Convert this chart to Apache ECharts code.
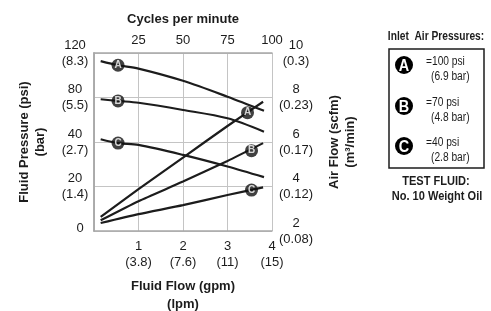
<!DOCTYPE html>
<html><head><meta charset="utf-8">
<script src="https://cdn.jsdelivr.net/npm/echarts@6/dist/echarts.min.js"></script>
<style>html,body{margin:0;padding:0;background:#fff}#c{width:491px;height:311px}</style>
</head><body><div id="c"></div>
<script>
// ---- data ----
const gpmTicks = [1, 2, 3, 4];
const lpmTicks = ['(3.8)', '(7.6)', '(11)', '(15)'];
const cycleTicks = [25, 50, 75, 100];
const psiTicks = [0, 20, 40, 80, 120];
const barTicks = ['', '(1.4)', '(2.7)', '(5.5)', '(8.3)'];
const scfmTicks = [2, 4, 6, 8, 10];
const m3Ticks = ['(0.08)', '(0.12)', '(0.17)', '(0.23)', '(0.3)'];

const pressGpm = [0.15, 0.54, 1, 2, 3, 3.82];
const pressureA = [112.7, 109, 106, 95, 80.7, 68];
const pressureB = [78.4, 76.9, 75.3, 68.8, 61.3, 49.3];
const pressureC = [42.5, 39.5, 38.7, 34.2, 29, 24.2];

const airGpm = [0.15, 1, 2, 3, 3.8];
const airA = [2.63, 3.88, 5.3, 6.72, 7.81];
const airB = [2.48, 3.34, 4.22, 5.15, 5.95];
const airC = [2.36, 2.76, 3.16, 3.62, 3.96];

const letters = ['A', 'B', 'C'];
const pressMarkGpm = [0.54, 0.54, 0.54];
const pressMarkPsi = [109, 76.9, 39.5];
const airMarkGpm = [3.45, 3.54, 3.54];
const airMarkScfm = [7.32, 5.61, 3.84];

const legendPsi = ['=100 psi', '=70 psi', '=40 psi'];
const legendBar = ['(6.9 bar)', '(4.8 bar)', '(2.8 bar)'];

// ---- helpers ----
function psiPos(p) {
  for (let i = 0; i < psiTicks.length - 1; i++) {
    if (p <= psiTicks[i + 1] || i === psiTicks.length - 2) {
      return i + (p - psiTicks[i]) / (psiTicks[i + 1] - psiTicks[i]);
    }
  }
}
const FONT = "'Liberation Sans','Helvetica','Arial',sans-serif";
const INK = '#1c1c1c';
const GRID = '#c4c4c4';
const SX = 0.85; // condensed look for free text

const pressSeries = [pressureA, pressureB, pressureC].map(arr => ({
  type: 'line', xAxisIndex: 0, yAxisIndex: 0, smooth: 0.3, symbol: 'none',
  lineStyle: { color: INK, width: 2.2 },
  data: arr.map((v, i) => [pressGpm[i], psiPos(v)])
}));
const airSeries = [airA, airB, airC].map(arr => ({
  type: 'line', xAxisIndex: 0, yAxisIndex: 1, smooth: 0.2, symbol: 'none',
  lineStyle: { color: INK, width: 2.2 },
  data: arr.map((v, i) => [airGpm[i], v])
}));
const markLabel = {
  show: true, position: 'inside', color: '#fff', fontWeight: 'bold',
  fontSize: 10, fontFamily: FONT,
  formatter: p => p.data[2]
};
const pressMarks = {
  type: 'scatter', xAxisIndex: 0, yAxisIndex: 0, symbol: 'circle', symbolSize: 13,
  itemStyle: { color: '#111' }, z: 5, label: markLabel,
  data: letters.map((l, i) => [pressMarkGpm[i], psiPos(pressMarkPsi[i]), l])
};
const airMarks = {
  type: 'scatter', xAxisIndex: 0, yAxisIndex: 1, symbol: 'circle', symbolSize: 13,
  itemStyle: { color: '#111' }, z: 5, label: markLabel,
  data: letters.map((l, i) => [airMarkGpm[i], airMarkScfm[i], l])
};

// legend graphics
const legendY = [65, 106, 146];
const legendGraphics = [
  { type: 'text', x: 436, y: 37, scaleX: SX, style: { text: 'Inlet  Air Pressures:', font: 'bold 12px ' + FONT, fill: INK, align: 'center', verticalAlign: 'middle' } },
  { type: 'rect', shape: { x: 389, y: 49, width: 95, height: 119 }, style: { fill: 'none', stroke: INK, lineWidth: 1.5 } }
];
letters.forEach((l, i) => {
  const cy = legendY[i];
  legendGraphics.push(
    { type: 'circle', shape: { cx: 404, cy: cy, r: 9 }, style: { fill: '#000' } },
    { type: 'text', x: 404, y: cy + 1, scaleX: SX, style: { text: l, font: 'bold 17px ' + FONT, fill: '#fff', align: 'center', verticalAlign: 'middle' } },
    { type: 'text', x: 426, y: cy - 3, scaleX: SX, style: { text: legendPsi[i], font: '12px ' + FONT, fill: INK, verticalAlign: 'middle' } },
    { type: 'text', x: 431, y: cy + 12, scaleX: SX, style: { text: legendBar[i], font: '12px ' + FONT, fill: INK, verticalAlign: 'middle' } }
  );
});
legendGraphics.push(
  { type: 'text', x: 436, y: 181, scaleX: SX, style: { text: 'TEST FLUID:', font: 'bold 13px ' + FONT, fill: INK, align: 'center', verticalAlign: 'middle' } },
  { type: 'text', x: 437, y: 196, scaleX: SX, style: { text: 'No. 10 Weight Oil', font: 'bold 13px ' + FONT, fill: INK, align: 'center', verticalAlign: 'middle' } }
);

const labelBase = { color: INK, fontFamily: FONT, fontSize: 13, lineHeight: 16 };
const nameBase = { color: INK, fontFamily: FONT, fontSize: 13, fontWeight: 'bold', lineHeight: 16 };
const boxLine = { show: true, lineStyle: { color: '#a8a8a8', width: 1.5 } };

const option = {
  animation: false,
  grid: { left: 94, right: 219, top: 53, bottom: 80, containLabel: false, outerBoundsMode: 'none' },
  xAxis: [
    {
      type: 'value', position: 'bottom', min: 0, max: 4, interval: 1,
      axisLine: boxLine, axisTick: { show: false },
      splitLine: { show: true, lineStyle: { color: GRID, width: 1 } },
      axisLabel: Object.assign({}, labelBase, {
        margin: 7,
        formatter: v => { const i = gpmTicks.indexOf(v); return i < 0 ? '' : gpmTicks[i] + '\n' + lpmTicks[i]; }
      }),
      name: 'Fluid Flow (gpm)\n(lpm)', nameLocation: 'middle', nameGap: 46,
      nameTextStyle: Object.assign({}, nameBase, { lineHeight: 18 })
    },
    {
      type: 'value', position: 'top', min: 0, max: 100, interval: 25,
      axisLine: boxLine, axisTick: { show: false }, splitLine: { show: false },
      axisLabel: Object.assign({}, labelBase, {
        margin: 5,
        formatter: v => cycleTicks.indexOf(v) < 0 ? '' : String(v)
      }),
      name: 'Cycles per minute', nameLocation: 'middle', nameGap: 26,
      nameTextStyle: nameBase
    }
  ],
  yAxis: [
    {
      type: 'value', position: 'left', min: 0, max: 4, interval: 1,
      axisLine: boxLine, axisTick: { show: false },
      splitLine: { show: true, lineStyle: { color: GRID, width: 1 } },
      axisLabel: Object.assign({}, labelBase, {
        margin: 19, align: 'center',
        formatter: v => barTicks[v] ? psiTicks[v] + '\n' + barTicks[v] : '{z|' + psiTicks[v] + '}',
        rich: { z: { fontFamily: FONT, fontSize: 13, color: INK, padding: [0, 0, 6, 10] } }
      }),
      name: 'Fluid Pressure (psi)\n(bar)', nameLocation: 'middle', nameGap: 46,
      nameTextStyle: nameBase
    },
    {
      type: 'value', position: 'right', min: 2, max: 10, interval: 2,
      axisLine: boxLine, axisTick: { show: false }, splitLine: { show: false },
      axisLabel: Object.assign({}, labelBase, {
        margin: 24, align: 'center',
        formatter: v => { const i = scfmTicks.indexOf(v); return v + '\n' + m3Ticks[i]; }
      }),
      name: 'Air Flow (scfm)\n(m³/min)', nameLocation: 'middle', nameGap: 54,
      nameTextStyle: nameBase
    }
  ],
  series: pressSeries.concat(airSeries, [pressMarks, airMarks]),
  graphic: legendGraphics
};
const chart = echarts.init(document.getElementById('c'), null, { renderer: 'canvas' });
chart.setOption(option);
</script></body></html>
